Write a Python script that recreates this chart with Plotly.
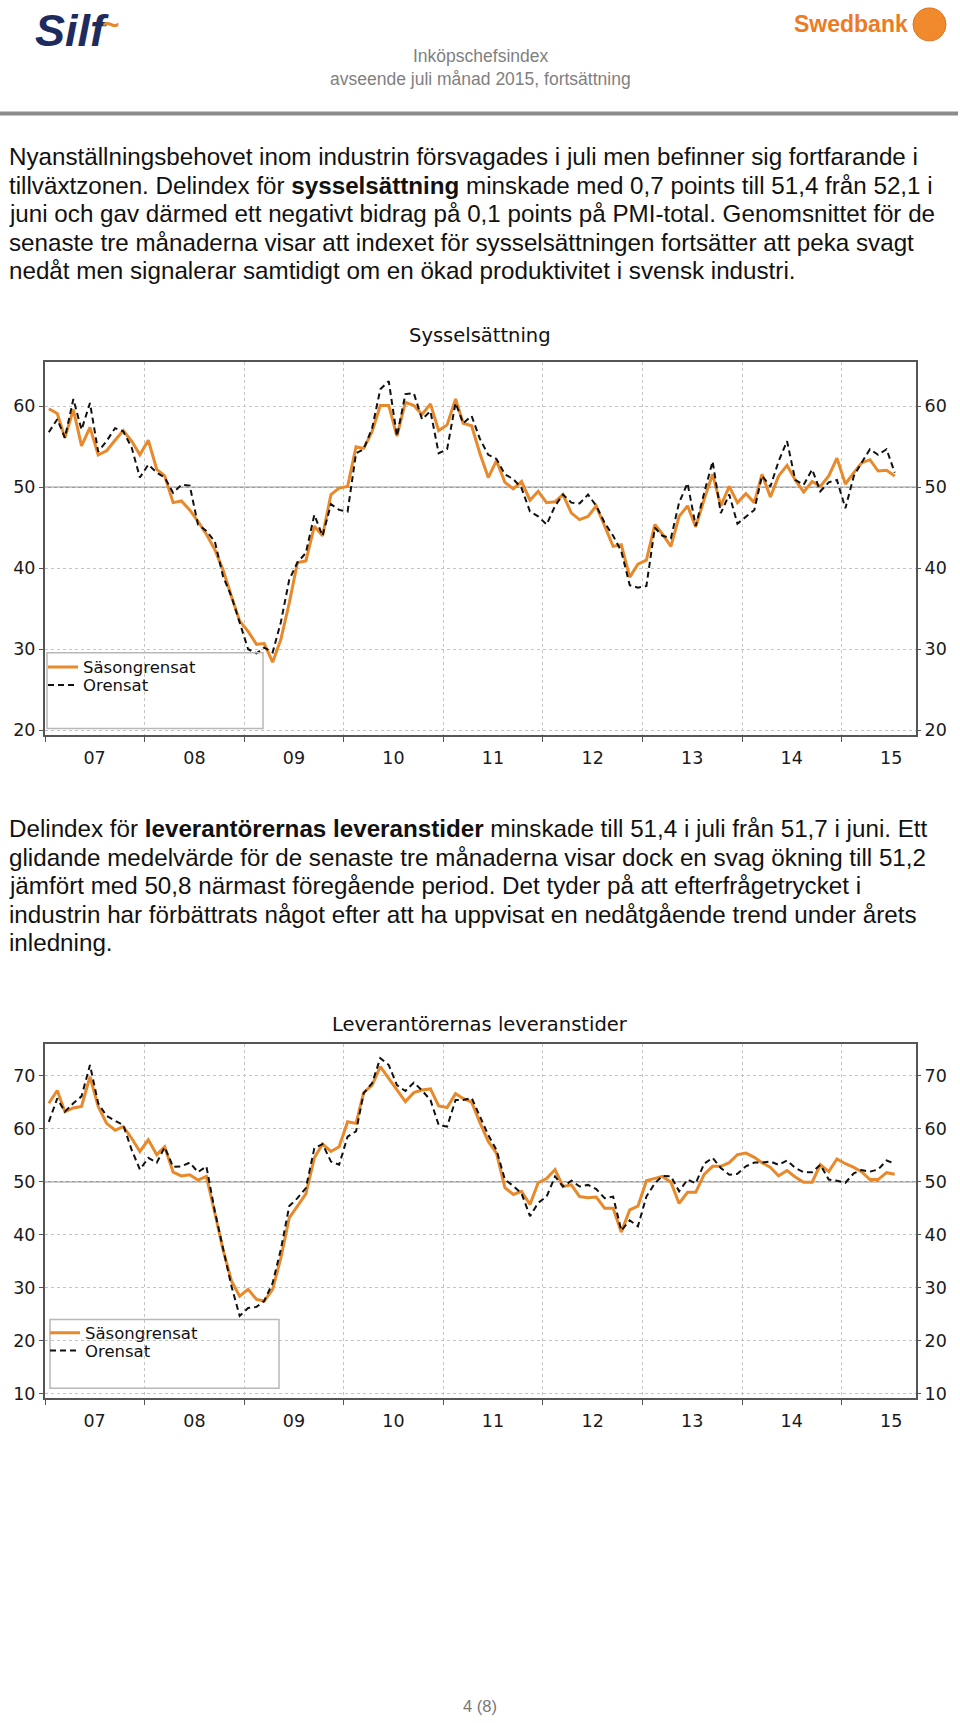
import pandas as pd
import plotly.graph_objects as go

W, H = 960, 1723

# ---------------- data ----------------
months = (pd.date_range("2007-01-01", "2015-07-01", freq="MS")
          + pd.Timedelta(days=14)).strftime("%Y-%m-%d").tolist()

year_labels = ["07", "08", "09", "10", "11", "12", "13", "14", "15"]

syss_sa = [59.7, 59.1, 56.1, 59.6, 55.1, 57.4, 54.0, 54.5, 55.8, 57.0, 55.7, 54.0, 55.8,
           52.2, 51.4, 48.1, 48.3, 47.2, 45.8, 44.2, 42.3, 39.8, 36.5, 33.5, 32.2,
           30.6, 30.7, 28.4, 31.2, 35.7, 40.7, 40.9, 45.2, 44.0, 49.1, 49.9, 50.1,
           55.0, 54.8, 56.9, 60.1, 60.1, 56.3, 60.5, 60.1, 59.0, 60.3, 57.0, 57.7,
           60.9, 57.9, 57.6, 54.2,
           51.2, 53.3, 50.6, 49.8, 50.7, 48.4, 49.5, 48.1, 48.2, 49.1, 46.8, 46.0, 46.4, 47.7,
           45.2, 42.7, 42.9, 38.9, 40.5, 41.0, 45.4, 44.2, 42.7, 46.4, 47.7, 45.1, 48.5, 51.6,
           47.7, 50.1, 48.1, 49.2, 48.1, 51.6, 48.8, 51.4, 52.7, 50.9, 49.4, 50.7, 50.1, 51.4,
           53.6, 50.4, 51.8, 53.0, 53.4, 52.0, 52.1, 51.4]

syss_nsa = [56.8, 58.4, 56.1, 60.9, 57.1, 60.4, 54.4, 55.7, 57.3, 56.9, 54.9, 51.2, 52.8,
            51.8, 51.2, 49.3, 50.3, 50.2, 45.4, 44.6, 43.3, 39.0, 36.5, 33.3, 30.0,
            29.5, 30.2, 29.6, 33.3, 38.6, 40.7, 41.9, 46.6, 44.0, 47.9, 47.2, 47.0,
            54.2, 54.7, 57.3, 62.1, 63.1, 56.3, 61.5, 61.6, 58.4, 59.4, 54.2, 54.7,
            60.4, 57.9, 58.8, 56.0,
            54.0, 53.5, 51.6, 51.0, 49.9, 47.0, 46.4, 45.4, 47.7, 49.1, 48.1, 48.0, 49.1, 47.7,
            45.6, 44.0, 42.1, 37.9, 37.6, 37.8, 45.0, 44.0, 43.7, 48.1, 50.5, 45.2, 49.3, 53.2,
            46.8, 49.1, 45.5, 46.4, 47.2, 51.4, 50.1, 53.2, 55.7, 50.9, 50.3, 52.2, 49.5, 50.6,
            50.9, 47.4, 51.4, 53.0, 54.7, 54.0, 54.7, 51.8]

lev_sa = [64.8, 67.2, 63.2, 63.9, 64.2, 69.8, 64.2, 61.0, 59.7, 60.4, 58.2, 55.7, 57.9,
          55.1, 56.6, 51.8, 51.1, 51.3, 50.3, 51.0, 44.1, 37.2, 31.3, 28.4, 29.7,
          27.8, 27.5, 29.7, 35.6, 43.2, 45.4, 47.7, 54.5, 57.1, 55.7, 56.6, 61.3,
          61.0, 66.8, 68.2, 71.7, 69.5, 67.3, 65.1, 66.8, 67.3, 67.5, 64.3, 64.0,
          66.6, 65.7, 65.0, 61.2,
          57.6, 55.4, 48.9, 47.6, 48.2, 45.7, 49.8, 50.6, 52.3, 49.1, 49.4, 47.2, 47.0, 47.1,
          45.0, 45.0, 40.5, 44.7, 45.4, 50.2, 50.6, 51.0, 49.9, 45.9, 48.0, 48.0, 51.4, 52.9,
          52.9, 53.6, 55.1, 55.4, 54.6, 53.6, 52.7, 51.1, 52.1, 50.9, 49.9, 49.9, 53.2, 51.9,
          54.3, 53.4, 52.7, 51.9, 50.4, 50.4, 51.7, 51.4]

lev_nsa = [61.3, 65.7, 63.2, 64.8, 66.1, 72.0, 64.8, 62.4, 61.5, 60.7, 56.0, 52.3, 54.5,
           53.6, 56.5, 52.8, 52.9, 53.6, 51.8, 52.9, 44.4, 37.5, 30.3, 24.7, 26.2,
           26.4, 27.5, 30.9, 37.2, 45.4, 46.9, 48.8, 56.3, 57.1, 53.8, 53.2, 58.5,
           59.5, 66.7, 68.6, 73.3, 72.0, 68.2, 67.1, 68.7, 67.2, 65.4, 60.7, 60.4,
           65.4, 65.4, 65.8, 62.5,
           58.8, 56.0, 50.4, 49.2, 47.8, 43.5, 46.0, 47.2, 51.0, 49.1, 50.2, 49.1, 49.4, 48.6,
           46.9, 47.2, 40.8, 42.7, 41.6, 47.2, 49.7, 51.1, 51.0, 48.2, 50.4, 49.7, 53.4, 54.5,
           52.6, 51.3, 51.5, 52.9, 53.6, 53.6, 53.8, 53.2, 54.0, 52.6, 51.8, 51.8, 53.2, 50.4,
           50.2, 49.8, 51.6, 52.2, 51.9, 52.3, 54.0, 53.4]

y1_ticks = [20, 30, 40, 50, 60]
y2_ticks = [10, 20, 30, 40, 50, 60, 70]

# ---------------- styles ----------------
ORANGE = "#E8892B"
AXC = "#555555"
GRID = "#c4c4c4"
TICKFONT = dict(family="DejaVu Sans", size=17.5, color="#1a1a1a")
TXTFONT = "Liberation Sans, Arial, sans-serif"


def px(x):
    return x / W


def py(y):
    return 1 - y / H


year_mid = [f"20{y}-07-02" for y in year_labels]
year_start = [f"20{y}-01-01" for y in year_labels]
x_range = ["2007-01-01", "2015-10-01"]

fig = go.Figure()


def add_pair(sa, nsa, xa, ya, ya_right, leg_sa, leg_nsa):
    fig.add_trace(go.Scatter(x=months, y=sa, name="Säsongrensat", mode="lines",
                             line=dict(color=ORANGE, width=3), xaxis=xa, yaxis=ya,
                             legend=leg_sa, hoverinfo="skip"))
    fig.add_trace(go.Scatter(x=months, y=nsa, name="Orensat", mode="lines",
                             line=dict(color="#111111", width=2, dash="6px,4px"),
                             xaxis=xa, yaxis=ya, legend=leg_nsa, hoverinfo="skip"))
    # invisible copy so the right-hand axis is rendered
    fig.add_trace(go.Scatter(x=months, y=sa, mode="lines", opacity=0,
                             line=dict(width=0), xaxis=xa, yaxis=ya_right,
                             showlegend=False, hoverinfo="skip"))


add_pair(syss_sa, syss_nsa, "x", "y", "y3", "legend", "legend3")
add_pair(lev_sa, lev_nsa, "x2", "y2", "y4", "legend2", "legend4")


def xaxis_cfg(anchor):
    return dict(domain=[px(45), px(916)], anchor=anchor, type="date", range=x_range,
                tickmode="array", tickvals=year_mid, ticktext=year_labels, ticks="",
                showgrid=False, zeroline=False, showline=True, linecolor=AXC,
                linewidth=2, mirror=True, tickfont=TICKFONT, ticklabelstandoff=6,
                minor=dict(tickmode="array", tickvals=year_start, ticks="outside",
                           ticklen=5, tickcolor=AXC, tickwidth=1, showgrid=True,
                           gridcolor=GRID, griddash="dot", gridwidth=1))


def yaxis_cfg(anchor, dom, rng, tv):
    return dict(domain=dom, anchor=anchor, range=rng, tickmode="array", tickvals=tv,
                ticks="outside", ticklen=4, tickcolor=AXC, showgrid=True,
                gridcolor=GRID, griddash="dot", gridwidth=1, zeroline=False,
                showline=True, linecolor=AXC, linewidth=2, mirror=True,
                tickfont=TICKFONT)


def yaxis_right(over, anchor, rng, tv):
    return dict(overlaying=over, anchor=anchor, side="right", range=rng,
                tickmode="array", tickvals=tv, ticks="outside", ticklen=4,
                tickcolor=AXC, showgrid=False, zeroline=False, showline=False,
                tickfont=TICKFONT)


dom1 = [py(738), py(363)]
dom2 = [py(1403), py(1048)]
r1 = [19.35, 65.5]
r2 = [9.2, 75.9]


def leg(x, ytop):
    return dict(x=px(x), y=py(ytop), xanchor="left", yanchor="top",
                bgcolor="rgba(0,0,0,0)", borderwidth=0,
                font=dict(family="DejaVu Sans", size=16.5, color="#111"),
                itemwidth=30, tracegroupgap=0, traceorder="normal")


fig.update_layout(
    width=W, height=H, margin=dict(l=0, r=0, t=0, b=0),
    paper_bgcolor="white", plot_bgcolor="white",
    xaxis=xaxis_cfg("y"),
    yaxis=yaxis_cfg("x", dom1, r1, y1_ticks),
    yaxis3=yaxis_right("y", "x", r1, y1_ticks),
    xaxis2=xaxis_cfg("y2"),
    yaxis2=yaxis_cfg("x2", dom2, r2, y2_ticks),
    yaxis4=yaxis_right("y2", "x2", r2, y2_ticks),
    legend=leg(43, 652),
    legend3=leg(43, 670),
    legend2=leg(45, 1320),
    legend4=leg(45, 1338),
    showlegend=True,
)

# 50-lines (solid reference line)
for yref, xref in (("y", "x domain"), ("y2", "x2 domain")):
    fig.add_shape(type="line", xref=xref, x0=0, x1=1, yref=yref, y0=50, y1=50,
                  line=dict(color="#9a9a9a", width=1.5), layer="below")

# legend boxes
fig.add_shape(type="rect", xref="paper", yref="paper", x0=px(47), x1=px(263),
              y0=py(731), y1=py(655), line=dict(color="#b8b8b8", width=1.5))
fig.add_shape(type="rect", xref="paper", yref="paper", x0=px(50), x1=px(279),
              y0=py(1393), y1=py(1324), line=dict(color="#b8b8b8", width=1.5))

# header rule
fig.add_shape(type="line", xref="paper", yref="paper", x0=0, x1=px(958),
              y0=py(114), y1=py(114), line=dict(color="#8c8c8c", width=4))
# Swedbank circle
fig.add_shape(type="circle", xref="paper", yref="paper", x0=px(913), x1=px(946),
              y0=py(41), y1=py(8), fillcolor="#F08A2C", line=dict(color="#E07020", width=1))


def txt(text, x, y, size, color="#111", family=TXTFONT, xanchor="left"):
    fig.add_annotation(text=text, x=px(x), y=py(y), xref="paper", yref="paper",
                       xanchor=xanchor, yanchor="middle", showarrow=False,
                       borderpad=0, font=dict(size=size, color=color, family=family))


# logos
txt("<b><i>Silf</i></b>", 34, 31, 45, color="#1E2B5E")
txt("<b>~</b>", 101, 25, 30, color="#E8892B")
txt("<b>Swedbank</b>", 793, 24, 23, color="#EE7A22")

# header titles
txt("Inköpschefsindex", 480, 56, 17.5, color="#7f7f7f", xanchor="center")
txt("avseende juli månad 2015, fortsättning", 480, 79, 17.5, color="#7f7f7f",
    xanchor="center")

PSIZE = 24.2
para1 = [
    "Nyanställningsbehovet inom industrin försvagades i juli men befinner sig fortfarande i",
    "tillväxtzonen. Delindex för <b>sysselsättning</b> minskade med 0,7 points till 51,4 från 52,1 i",
    "juni och gav därmed ett negativt bidrag på 0,1 points på PMI-total. Genomsnittet för de",
    "senaste tre månaderna visar att indexet för sysselsättningen fortsätter att peka svagt",
    "nedåt men signalerar samtidigt om en ökad produktivitet i svensk industri.",
]
para1_y = [157.1, 185.7, 214.3, 242.9, 271.4]
for t, yy in zip(para1, para1_y):
    txt(t, 8, yy, PSIZE)

para2 = [
    "Delindex för <b>leverantörernas leveranstider</b> minskade till 51,4 i juli från 51,7 i juni. Ett",
    "glidande medelvärde för de senaste tre månaderna visar dock en svag ökning till 51,2",
    "jämfört med 50,8 närmast föregående period. Det tyder på att efterfrågetrycket i",
    "industrin har förbättrats något efter att ha uppvisat en nedåtgående trend under årets",
    "inledning.",
]
para2_y = [831.5, 860.0, 888.6, 917.2, 945.5]
for t, yy in zip(para2, para2_y):
    txt(t, 8, yy, PSIZE)

# chart titles
txt("Sysselsättning", 480, 337, 19.5, family="DejaVu Sans", xanchor="center")
txt("Leverantörernas leveranstider", 480, 1028, 19.5, family="DejaVu Sans",
    xanchor="center")

# footer
txt("4 (8)", 480, 1712, 16.5, color="#777777", xanchor="center")

fig.write_html("out.html", config={"displayModeBar": False})
